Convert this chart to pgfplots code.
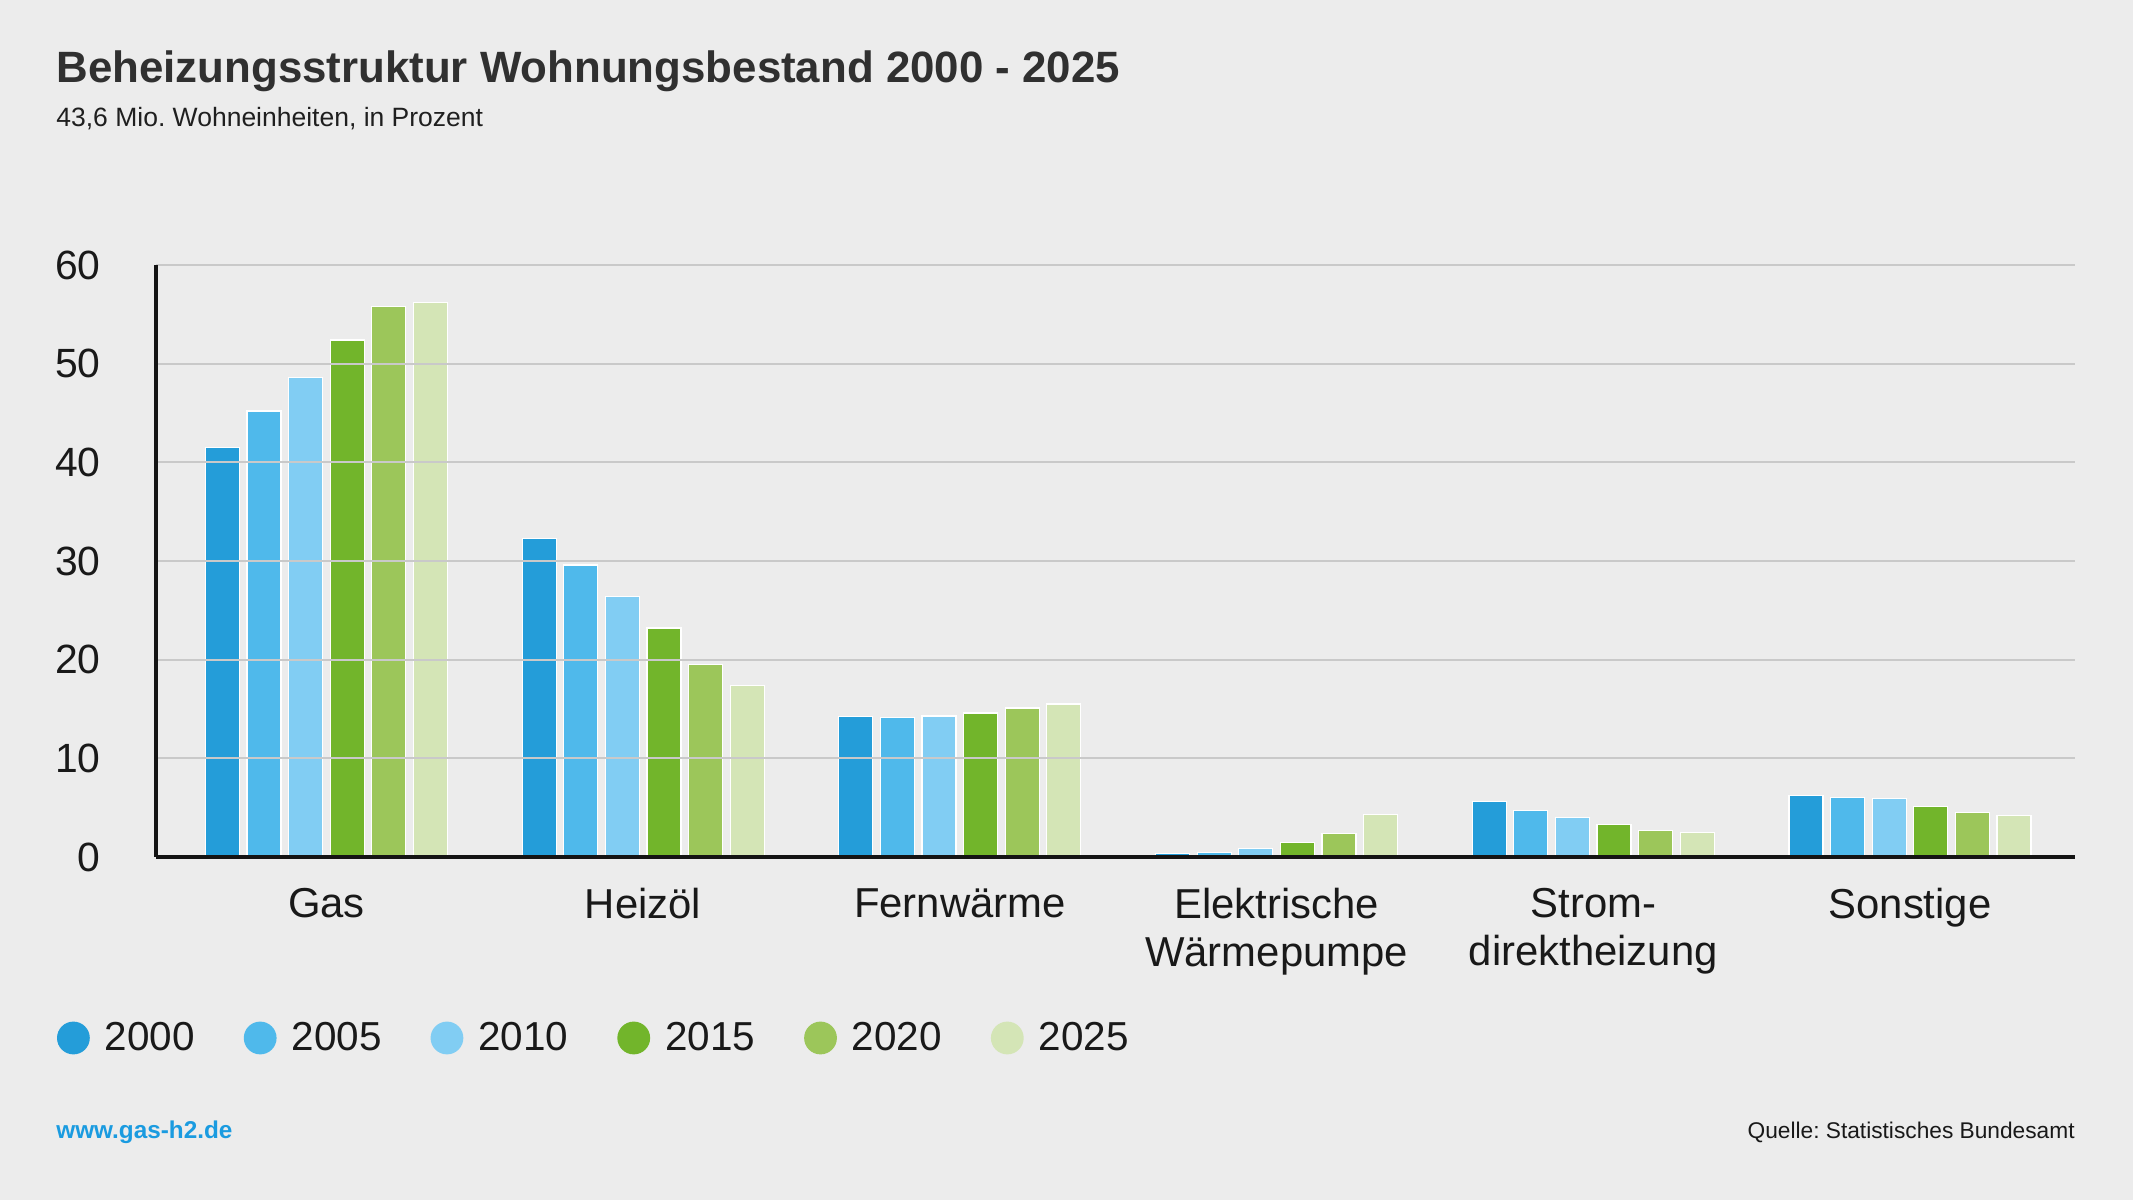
\documentclass[border=0pt]{standalone}
\usepackage{fontspec}
\setmainfont{Liberation Sans}
\usepackage{pgfplots}
\pgfplotsset{compat=1.18}
\definecolor{bg}{HTML}{ECECEC}
\definecolor{gridc}{HTML}{C9C9C9}
\definecolor{titlec}{HTML}{303030}
\definecolor{linkc}{HTML}{1A9BE0}
\definecolor{cA}{HTML}{249DD9}
\definecolor{cB}{HTML}{4FB9EB}
\definecolor{cC}{HTML}{81CDF3}
\definecolor{cD}{HTML}{72B52B}
\definecolor{cE}{HTML}{9CC65A}
\definecolor{cF}{HTML}{D4E5B6}
\frenchspacing
\begin{document}
\begin{tikzpicture}
\fill[bg] (0,0) rectangle (1066.5bp,600bp);
\node[anchor=base west, inner sep=0pt, text=titlec, font=\fontsize{22}{24}\selectfont\bfseries] at (28bp,558.5bp) {Beheizungsstruktur Wohnungsbestand 2000 - 2025};
\node[anchor=base west, inner sep=0pt, text=black!88, font=\fontsize{13.3}{15}\selectfont] at (28bp,536.5bp) {43,6 Mio. Wohneinheiten, in Prozent};
\node[anchor=base west, inner sep=0pt, text=linkc, font=\fontsize{12.2}{14}\selectfont\bfseries] at (28bp,31bp) {www.gas-h2.de};
\node[anchor=base east, inner sep=0pt, text=black!90, font=\fontsize{11.4}{13}\selectfont] at (1037.5bp,31bp) {Quelle: Statistisches Bundesamt};
\begin{axis}[
  at={(78bp,171.5bp)}, anchor=south west,
  scale only axis, width=959.5bp, height=296bp,
  xmin=-0.538, xmax=5.521, ymin=0, ymax=60,
  ybar=3.8bp, bar width=17bp,
  axis x line*=bottom, axis y line*=left,
  axis line style={line width=2bp, black!92},
  set layers, axis on top,
  ymajorgrids, grid style={gridc, line width=1bp, /pgfplots/on layer=axis background},
  major tick length=0pt, tick style={draw=none},
  ytick={0,10,...,60},
  xtick={0,...,5},
  xticklabels={Gas, Heizöl, Fernwärme, {Elektrische\\Wärmepumpe}, {Strom-\\direktheizung}, Sonstige},
  /pgf/number format/assume math mode=true,
  yticklabel style={inner sep=0pt, xshift=-27.5bp, font=\fontsize{20.5}{24}\selectfont, text=black!90},
  xticklabel style={align=center, anchor=north, inner sep=0pt, yshift=-15.5bp, font=\fontsize{21}{23.8}\selectfont, text=black!90},
  every axis plot/.append style={draw=white, line width=0.6bp},
  legend columns=6,
  legend style={at={(-0.05159,-0.30574)}, anchor=west, draw=none, fill=none, inner sep=0pt, outer sep=0pt,
    nodes={inner sep=0pt, font=\fontsize{20.3}{24}\selectfont, text=black!90},
    /tikz/every odd column/.append style={column sep=7.5bp},
    /tikz/every even column/.append style={column sep=24.5bp}},
  legend image code/.code={\fill[#1, draw=none] (8.2bp,0bp) circle (8.2bp);},
]
\addplot[fill=cA] coordinates {(0,41.5) (1,32.3) (2,14.2) (3,0.35) (4,5.6) (5,6.2)};
\addplot[fill=cB] coordinates {(0,45.2) (1,29.6) (2,14.1) (3,0.45) (4,4.7) (5,6.0)};
\addplot[fill=cC] coordinates {(0,48.6) (1,26.4) (2,14.3) (3,0.9) (4,4.0) (5,5.9)};
\addplot[fill=cD] coordinates {(0,52.4) (1,23.2) (2,14.6) (3,1.5) (4,3.3) (5,5.1)};
\addplot[fill=cE] coordinates {(0,55.8) (1,19.5) (2,15.1) (3,2.4) (4,2.7) (5,4.5)};
\addplot[fill=cF] coordinates {(0,56.2) (1,17.4) (2,15.5) (3,4.3) (4,2.5) (5,4.2)};
\legend{2000,2005,2010,2015,2020,2025}
\end{axis}
\end{tikzpicture}
\end{document}
